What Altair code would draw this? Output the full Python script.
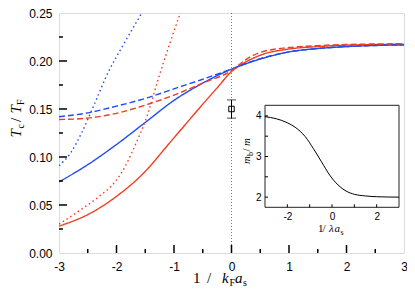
import altair as alt
import pandas as pd

# ---------------- data ----------------
# main panel: T_c / T_F versus 1/(k_F a_s)
red_solid_x = [-3, -2.5, -2, -1.5, -1.1, -0.8, -0.5, -0.25, 0, 0.25, 0.5, 1, 1.5, 2, 3]
red_solid_y = [0.028, 0.040, 0.059, 0.085, 0.113, 0.134, 0.155, 0.172, 0.189, 0.199, 0.206, 0.2125, 0.215, 0.2165, 0.2175]

blue_solid_x = [-3, -2.5, -2, -1.5, -1, -0.5, 0, 0.5, 1, 1.5, 2, 3]
blue_solid_y = [0.074, 0.092, 0.113, 0.136, 0.159, 0.177, 0.1915, 0.202, 0.2095, 0.213, 0.215, 0.2168]

blue_dashed_x = [-3, -2.5, -2, -1.5, -1, -0.5, 0, 0.5, 1, 1.5, 2, 3]
blue_dashed_y = [0.142, 0.146, 0.153, 0.161, 0.171, 0.181, 0.1915, 0.2025, 0.2095, 0.213, 0.215, 0.2168]

red_dashed_x = [-3, -2.5, -2, -1.5, -1, -0.5, 0, 0.25, 0.5, 1, 1.5, 2, 3]
red_dashed_y = [0.139, 0.1405, 0.1455, 0.154, 0.1645, 0.177, 0.190, 0.2015, 0.209, 0.214, 0.216, 0.2172, 0.218]

blue_dotted_x = [-3, -2.8, -2.6, -2.4, -2.13, -1.9, -1.56]
blue_dotted_y = [0.091, 0.104, 0.126, 0.153, 0.190, 0.215, 0.25]

red_dotted_x = [-3, -2.6, -2.3, -2.02, -1.85, -1.73, -1.45, -1.28, -1.08, -0.89]
red_dotted_y = [0.030, 0.046, 0.059, 0.0745, 0.090, 0.105, 0.146, 0.180, 0.217, 0.25]

# experimental point with error bar
point_x = [0.0]
point_y = [0.150]
point_lo = [0.1405]
point_hi = [0.1595]

# inset: m_b / m versus 1/(lambda a_s)
inset_x = [-3, -2.5, -2, -1.65, -1.2, -0.84, -0.47, -0.1, 0.27, 0.63, 1.0, 1.5, 2, 3]
inset_y = [3.98, 3.93, 3.83, 3.72, 3.49, 3.20, 2.87, 2.54, 2.30, 2.15, 2.07, 2.03, 2.01, 2.0]

# tick values
x_labels = [-3, -2, -1, 0, 1, 2, 3]
x_major = [-2, -1, 0, 1, 2]
x_minor = [-2.5, -1.5, -0.5, 0.5, 1.5, 2.5]
y_labels = [0.0, 0.05, 0.10, 0.15, 0.20, 0.25]
y_major = [0.05, 0.10, 0.15, 0.20]
y_minor = [0.025, 0.075, 0.125, 0.175, 0.225]
inset_x_labels = [-2, 0, 2]
inset_x_ticks = [-2, -1, 0, 1, 2]
inset_y_labels = [2, 3, 4]
inset_y_ticks = [2, 2.5, 3, 3.5, 4]

# ---------------- layout ----------------
W, H = 345, 240
RED = "#f23c1e"
BLUE = "#1f4df2"

rows = []
for name, col, sty, xs, ys in [
    ("rs", "red", "solid", red_solid_x, red_solid_y),
    ("bs", "blue", "solid", blue_solid_x, blue_solid_y),
    ("bd", "blue", "dashed", blue_dashed_x, blue_dashed_y),
    ("rd", "red", "dashed", red_dashed_x, red_dashed_y),
    ("bt", "blue", "dotted", blue_dotted_x, blue_dotted_y),
    ("rt", "red", "dotted", red_dotted_x, red_dotted_y),
]:
    for xv, yv in zip(xs, ys):
        rows.append({"x": xv, "y": yv, "name": name, "col": col, "sty": sty})
curves = pd.DataFrame(rows)

xs_main = alt.Scale(domain=[-3, 3], nice=False, zero=False)
ys_main = alt.Scale(domain=[0, 0.25], nice=False, zero=False)
ax_x = alt.Axis(values=x_labels, labelExpr="'' + datum.value", ticks=False, tickSize=0,
                domain=False, grid=False, labelFont="Liberation Sans", labelFontSize=12,
                labelColor="black", labelPadding=8, labelFlush=False, labelOverlap=False,
                title=None, zindex=1)
ax_y = alt.Axis(values=y_labels, format=".2f", ticks=False, tickSize=0,
                domain=False, grid=False, labelFont="Liberation Sans", labelFontSize=12,
                labelColor="black", labelPadding=7, labelFlush=False, labelOverlap=False,
                title=None, zindex=1)
X = alt.X("x:Q", scale=xs_main, axis=ax_x)
Y = alt.Y("y:Q", scale=ys_main, axis=ax_y)

one = pd.DataFrame({"k": [0]})

vline = alt.Chart(pd.DataFrame({"x": [0.0]})).mark_rule(
    color="#777777", strokeDash=[1, 2], strokeWidth=1
).encode(x=X, y=alt.value(0), y2=alt.value(H))

lines = alt.Chart(curves).mark_line(strokeWidth=1.4, interpolate="monotone", clip=True).encode(
    x=X, y=Y,
    color=alt.Color("col:N", scale=alt.Scale(domain=["red", "blue"], range=[RED, BLUE]), legend=None),
    strokeDash=alt.StrokeDash("sty:N", scale=alt.Scale(domain=["solid", "dashed", "dotted"],
                                                        range=[[1, 0], [6, 3], [1.5, 3]]), legend=None),
    detail="name:N",
)

pt_df = pd.DataFrame({"x": point_x, "y": point_y, "lo": point_lo, "hi": point_hi})
err = alt.Chart(pt_df).mark_rule(color="black", strokeWidth=1).encode(
    x=X, y=alt.Y("lo:Q", scale=ys_main, axis=ax_y), y2="hi:Q")
cap_df = pd.DataFrame({"x": point_x * 2, "y": point_lo + point_hi})
caps = alt.Chart(cap_df).mark_tick(color="black", orient="horizontal", size=9, thickness=1).encode(x=X, y=Y)
sq = alt.Chart(pt_df).mark_point(shape="square", filled=False, size=30, color="black",
                                 strokeWidth=1, opacity=1).encode(x=X, y=Y)

# inward ticks
xmaj = alt.Chart(pd.DataFrame({"x": x_major})).mark_rule(color="black", strokeWidth=1.5).encode(
    x=X, y=alt.value(H), y2=alt.value(H - 8))
xmin = alt.Chart(pd.DataFrame({"x": x_minor})).mark_rule(color="black", strokeWidth=1.5).encode(
    x=X, y=alt.value(H), y2=alt.value(H - 4))
ymaj = alt.Chart(pd.DataFrame({"y": y_major})).mark_rule(color="black", strokeWidth=1.5).encode(
    y=Y, x=alt.value(0), x2=alt.value(8))
ymin = alt.Chart(pd.DataFrame({"y": y_minor})).mark_rule(color="black", strokeWidth=1.5).encode(
    y=Y, x=alt.value(0), x2=alt.value(4))


def txt(s, x, y, size, italic=False, angle=0):
    return alt.Chart(one).mark_text(
        font="Liberation Serif", fontSize=size, fontStyle="italic" if italic else "normal",
        angle=angle, align="left", baseline="alphabetic", color="black"
    ).encode(x=alt.value(x), y=alt.value(y), text=alt.value(s))


titles = [
    # y title  T_c / T_F (rotated)
    txt("T", -38.5, 124.5, 15, True, 270),
    txt("c", -35.5, 115.5, 10, False, 270),
    txt("/", -38.5, 109, 15, False, 270),
    txt("T", -38.5, 100.5, 15, True, 270),
    txt("F", -35.5, 92, 10, False, 270),
    # x title  1 / k_F a_s
    txt("1", 134, 270, 15),
    txt("/", 148, 270, 15),
    txt("k", 163, 270, 15, True),
    txt("F", 170.5, 273, 10),
    txt("a", 176, 270, 15, True),
    txt("s", 184, 273, 10),
    # inset x title  1 / λa_s
    txt("1", 259, 219, 11),
    txt("/", 263.5, 219, 11),
    txt("λ", 270, 219, 11, True),
    txt("a", 275.5, 219, 11, True),
    txt("s", 281.5, 221.5, 8),
    # inset y title  m_b / m
    txt("m", 191, 151, 11, True, 270),
    txt("b", 194, 143, 8, False, 270),
    txt("/", 191, 138.5, 11, False, 270),
    txt("m", 191, 133, 11, True, 270),
]

main = alt.layer(vline, lines, err, caps, sq, xmaj, xmin, ymaj, ymin, *titles)

# ---------------- inset ----------------
IL, IR, IT, IB = 206, 340, 92.3, 194.3
xs_in = alt.Scale(domain=[-3, 3], range=[IL, IR], nice=False, zero=False)
ys_in = alt.Scale(domain=[1.75, 4.26], range=[IB, IT], nice=False, zero=False)
ax_ix = alt.Axis(orient="bottom", offset=-(H - IB), values=inset_x_labels, labelExpr="'' + datum.value",
                 ticks=False, tickSize=0, domain=False, grid=False, labelFont="Liberation Sans",
                 labelFontSize=10, labelColor="black", labelPadding=4, labelFlush=False,
                 labelOverlap=False, title=None, zindex=1)
ax_iy = alt.Axis(orient="left", offset=-IL, values=inset_y_labels, ticks=False, tickSize=0,
                 domain=False, grid=False, labelFont="Liberation Sans", labelFontSize=10,
                 labelColor="black", labelPadding=4, labelFlush=False, labelOverlap=False,
                 title=None, zindex=1)
IX = alt.X("ix:Q", scale=xs_in, axis=ax_ix)
IY = alt.Y("iy:Q", scale=ys_in, axis=ax_iy)

box = alt.Chart(one).mark_rect(fill="white", stroke="#222222", strokeWidth=1).encode(
    x=alt.value(IL), x2=alt.value(IR), y=alt.value(IT), y2=alt.value(IB))
icurve = alt.Chart(pd.DataFrame({"ix": inset_x, "iy": inset_y})).mark_line(
    color="black", strokeWidth=1, interpolate="monotone").encode(x=IX, y=IY)
ixt = alt.Chart(pd.DataFrame({"ix": inset_x_ticks})).mark_rule(color="black", strokeWidth=1).encode(
    x=IX, y=alt.value(IB), y2=alt.value(IB - 3))
iyt = alt.Chart(pd.DataFrame({"iy": inset_y_ticks})).mark_rule(color="black", strokeWidth=1).encode(
    y=IY, x=alt.value(IL), x2=alt.value(IL + 3))

inset = alt.layer(box, icurve, ixt, iyt)

chart = alt.layer(main, inset).resolve_scale(x="independent", y="independent").properties(
    width=W, height=H,
    autosize=alt.AutoSizeParams(type="none"),
    padding={"left": 51, "top": 5, "right": 3, "bottom": 34},
).configure_view(stroke="black", strokeWidth=1.5).configure(background="white")

chart.save("out.html", embed_options={"renderer": "svg", "actions": False})
